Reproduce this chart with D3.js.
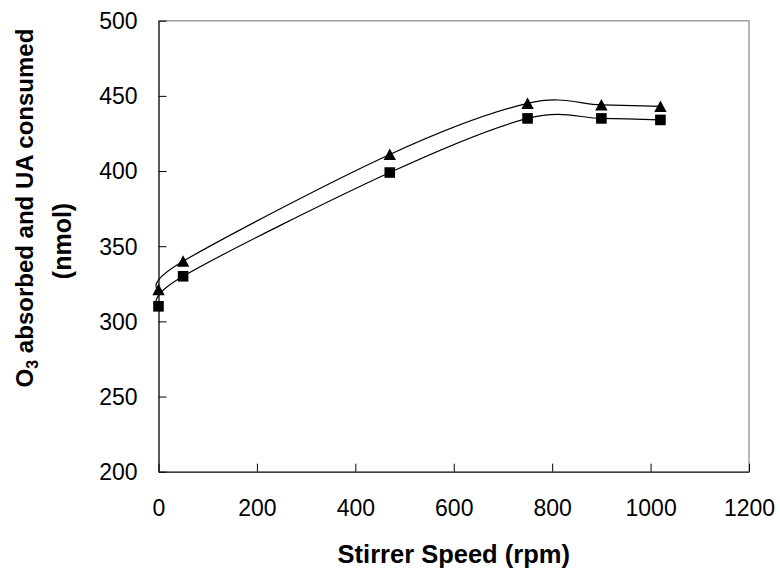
<!DOCTYPE html>
<html>
<head>
<meta charset="utf-8">
<script src="https://cdn.jsdelivr.net/npm/d3@7"></script>
<style>
  body { margin: 0; background: #fff; }
  text { font-family: "Liberation Sans", Arial, sans-serif; fill: #000; }
</style>
</head>
<body>
<script>
// stirrer speed (rpm)
var speeds = [0, 50, 470, 750, 900, 1020];
// O3 absorbed (triangles) and UA consumed (squares), nmol
var o3Absorbed = [321, 340, 411, 445, 444, 443];
var uaConsumed = [310, 330, 399, 435, 435, 434];
var xTicks = [0, 200, 400, 600, 800, 1000, 1200];
var yTicks = [200, 250, 300, 350, 400, 450, 500];

var width = 780, height = 573;
var plotLeft = 158.5, plotRight = 749, plotTop = 20.7, plotBottom = 471.7;

var svg = d3.select("body").append("svg")
  .attr("width", width)
  .attr("height", height);

var x = d3.scaleLinear().domain([0, 1200]).range([plotLeft, plotRight]);
var y = d3.scaleLinear().domain([200, 500]).range([plotBottom, plotTop]);

// plot frame: grey top/right
svg.append("path")
  .attr("d", "M" + plotLeft + "," + plotTop + "H" + plotRight + "V" + plotBottom)
  .attr("fill", "none")
  .attr("stroke", "#a0a0a0")
  .attr("stroke-width", 1.5);

var xAxis = svg.append("g")
  .attr("transform", "translate(0," + plotBottom + ")")
  .call(d3.axisBottom(x).tickValues(xTicks).tickSizeInner(-8).tickSizeOuter(0).tickPadding(0).tickFormat(d3.format("d")));
xAxis.selectAll("text")
  .attr("y", 44)
  .attr("dy", 0)
  .style("font-size", "23px");

var yAxis = svg.append("g")
  .attr("transform", "translate(" + plotLeft + ",0)")
  .call(d3.axisLeft(y).tickValues(yTicks).tickSizeInner(-8).tickSizeOuter(0).tickPadding(0));
yAxis.selectAll("text")
  .attr("x", -21)
  .attr("dy", "0.34em")
  .style("font-size", "23px");

svg.selectAll(".domain").attr("stroke", "#000").attr("stroke-width", 1.3);
svg.selectAll(".tick line").attr("stroke", "#000");
svg.selectAll("g").attr("font-family", null).attr("font-size", null);

var line = d3.line()
  .x(function(d) { return x(d[0]); })
  .y(function(d) { return y(d[1]); })
  .curve(d3.curveCardinal.tension(0));

var triPts = d3.zip(speeds, o3Absorbed);
var sqPts = d3.zip(speeds, uaConsumed);

[triPts, sqPts].forEach(function(pts) {
  svg.append("path")
    .datum(pts)
    .attr("d", line)
    .attr("fill", "none")
    .attr("stroke", "#000")
    .attr("stroke-width", 1.2);
});

svg.selectAll(".tri")
  .data(triPts)
  .enter().append("path")
  .attr("class", "tri")
  .attr("d", function(d) {
    var cx = x(d[0]), cy = y(d[1]);
    return "M" + cx + "," + (cy - 6) + "L" + (cx + 6.2) + "," + (cy + 5.5) + "L" + (cx - 6.2) + "," + (cy + 5.5) + "Z";
  })
  .attr("fill", "#000");

svg.selectAll(".sq")
  .data(sqPts)
  .enter().append("rect")
  .attr("class", "sq")
  .attr("x", function(d) { return x(d[0]) - 5.3; })
  .attr("y", function(d) { return y(d[1]) - 5.3; })
  .attr("width", 10.6)
  .attr("height", 10.6)
  .attr("fill", "#000");

// axis titles
svg.append("text")
  .attr("x", (plotLeft + plotRight) / 2)
  .attr("y", 563)
  .attr("text-anchor", "middle")
  .style("font-size", "25.5px")
  .style("font-weight", "bold")
  .text("Stirrer Speed (rpm)");

var t1 = svg.append("text")
  .attr("transform", "translate(33,208) rotate(-90)")
  .attr("text-anchor", "middle")
  .style("font-size", "24px")
  .style("font-weight", "bold");
t1.append("tspan").text("O");
t1.append("tspan").attr("dy", 5).style("font-size", "16px").text("3");
t1.append("tspan").attr("dy", -5).text(" absorbed and UA consumed");

svg.append("text")
  .attr("transform", "translate(71,241) rotate(-90)")
  .attr("text-anchor", "middle")
  .style("font-size", "25px")
  .style("font-weight", "bold")
  .text("(nmol)");
</script>
</body>
</html>
